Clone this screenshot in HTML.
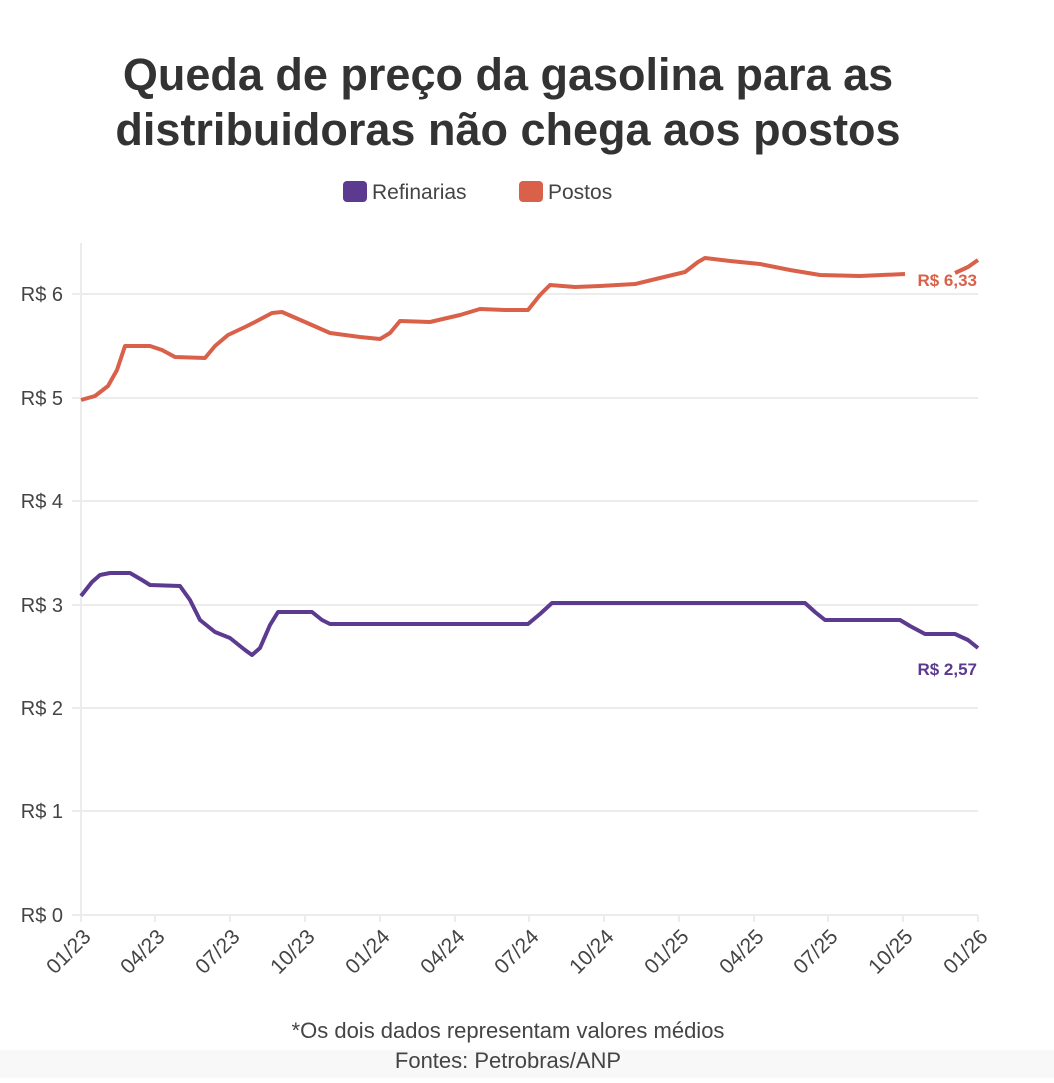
<!DOCTYPE html>
<html><head><meta charset="utf-8"><style>
body{margin:0;background:#fff;width:1054px;height:1078px;overflow:hidden;font-family:"Liberation Sans",sans-serif}
</style></head><body>
<svg width="1054" height="1078" xmlns="http://www.w3.org/2000/svg" font-family="Liberation Sans, sans-serif">
<rect x="0" y="1050" width="1054" height="28" fill="#f8f8f8"/>
<text x="508" y="90" text-anchor="middle" font-size="45" font-weight="bold" fill="#333">Queda de preço da gasolina para as</text>
<text x="508" y="145" text-anchor="middle" font-size="45" font-weight="bold" fill="#333">distribuidoras não chega aos postos</text>
<rect x="343" y="181" width="24" height="21" rx="4" fill="#5b3a8f"/>
<text x="372" y="199" font-size="21" fill="#444">Refinarias</text>
<rect x="519" y="181" width="24" height="21" rx="4" fill="#d9614a"/>
<text x="548" y="199" font-size="21" fill="#444">Postos</text>
<g stroke="#ececec" stroke-width="2">
<line x1="72" y1="915" x2="978" y2="915"/><line x1="72" y1="811" x2="978" y2="811"/><line x1="72" y1="708" x2="978" y2="708"/><line x1="72" y1="605" x2="978" y2="605"/><line x1="72" y1="501" x2="978" y2="501"/><line x1="72" y1="398" x2="978" y2="398"/><line x1="72" y1="294" x2="978" y2="294"/>
<line x1="81" y1="243" x2="81" y2="922"/>
<line x1="155" y1="915" x2="155" y2="922"/><line x1="230" y1="915" x2="230" y2="922"/><line x1="305" y1="915" x2="305" y2="922"/><line x1="380" y1="915" x2="380" y2="922"/><line x1="455" y1="915" x2="455" y2="922"/><line x1="529" y1="915" x2="529" y2="922"/><line x1="604" y1="915" x2="604" y2="922"/><line x1="679" y1="915" x2="679" y2="922"/><line x1="754" y1="915" x2="754" y2="922"/><line x1="828" y1="915" x2="828" y2="922"/><line x1="903" y1="915" x2="903" y2="922"/><line x1="978" y1="915" x2="978" y2="922"/>
</g>
<g font-size="20" fill="#444" text-anchor="end">
<text x="63" y="922">R$ 0</text><text x="63" y="818">R$ 1</text><text x="63" y="715">R$ 2</text><text x="63" y="612">R$ 3</text><text x="63" y="508">R$ 4</text><text x="63" y="405">R$ 5</text><text x="63" y="301">R$ 6</text>
</g>
<g font-size="21" fill="#444" text-anchor="end">
<text transform="translate(92,938) rotate(-45)">01/23</text>
<text transform="translate(166,938) rotate(-45)">04/23</text>
<text transform="translate(241,938) rotate(-45)">07/23</text>
<text transform="translate(316,938) rotate(-45)">10/23</text>
<text transform="translate(391,938) rotate(-45)">01/24</text>
<text transform="translate(466,938) rotate(-45)">04/24</text>
<text transform="translate(540,938) rotate(-45)">07/24</text>
<text transform="translate(615,938) rotate(-45)">10/24</text>
<text transform="translate(690,938) rotate(-45)">01/25</text>
<text transform="translate(765,938) rotate(-45)">04/25</text>
<text transform="translate(839,938) rotate(-45)">07/25</text>
<text transform="translate(914,938) rotate(-45)">10/25</text>
<text transform="translate(989,938) rotate(-45)">01/26</text>
</g>
<polyline fill="none" stroke="#d9614a" stroke-width="4" stroke-linejoin="round" points="81,400 95,396 108,386 117,370 125,346 150,346 162,350 175,357 205,358 215,346 228,335 245,327 255,322 272,313 282,312 305,322 330,333 360,337 380,339 390,333 400,321 430,322 460,315 480,309 505,310 528,310 540,295 550,285 575,287 600,286 635,284 660,278 685,272 698,262 705,258 730,261 760,264 790,270 820,275 860,276 905,274"/>
<polyline fill="none" stroke="#d9614a" stroke-width="4" points="955,273 968,267 978,260"/>
<text x="977" y="286" text-anchor="end" font-size="17" font-weight="bold" fill="#d9614a">R$ 6,33</text>
<polyline fill="none" stroke="#5b3a8f" stroke-width="4" stroke-linejoin="round" points="81,596 92,582 100,575 110,573 130,573 142,580 150,585 180,586 190,600 200,620 215,632 230,638 245,650 252,655 260,648 270,625 278,612 312,612 322,620 330,624 528,624 540,614 552,603 805,603 815,612 825,620 900,620 910,626 925,634 955,634 968,640 978,648"/>
<text x="977" y="675" text-anchor="end" font-size="17" font-weight="bold" fill="#5b3a8f">R$ 2,57</text>
<text x="508" y="1038" text-anchor="middle" font-size="22" fill="#444">*Os dois dados representam valores médios</text>
<text x="508" y="1068" text-anchor="middle" font-size="22" fill="#444">Fontes: Petrobras/ANP</text>
</svg>
</body></html>
